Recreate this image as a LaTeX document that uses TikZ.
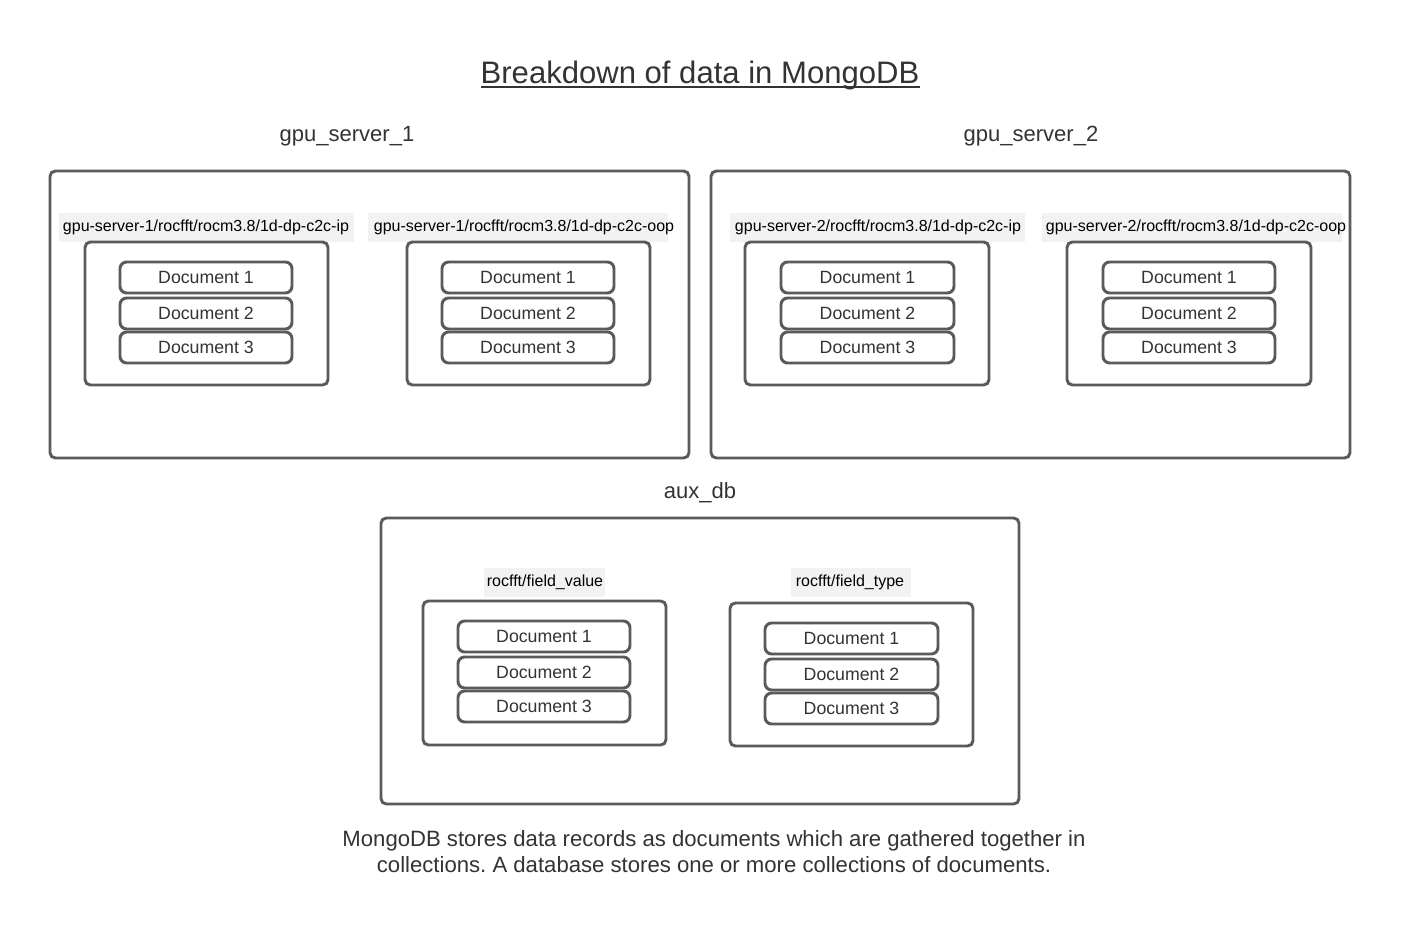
\documentclass[tikz,border=0pt]{standalone}
\usepackage{fontspec}
\setmainfont{Liberation Sans}
\usetikzlibrary{fit}
\frenchspacing
\definecolor{ln}{HTML}{5A5A5A}
\definecolor{tx}{HTML}{333333}
\definecolor{lbg}{HTML}{F2F2F2}
\tikzset{
  box/.style={draw=ln, line width=2.2pt, rounded corners=4pt, inner sep=0pt},
  coll/.style={draw=ln, line width=2.2pt, rounded corners=4pt, inner sep=0pt},
  doc/.style={draw=ln, line width=2.2pt, rounded corners=5pt, inner sep=0pt},
  dtext/.style={text=tx, font=\fontsize{13.3}{15}\selectfont, inner sep=0pt},
  clab/.style={fill=lbg, inner sep=0pt},
  ctext/.style={text=black, font=\fontsize{12}{14}\selectfont, inner sep=0pt},
  slab/.style={text=tx, font=\fontsize{16.5}{20}\selectfont},
  ttl/.style={text=tx, font=\fontsize{23.3}{28}\selectfont},
  note/.style={text=tx, font=\fontsize{16.6}{19.5}\selectfont, align=center}
}
\begin{document}
\begin{tikzpicture}[x=0.75pt,y=-0.75pt]
\useasboundingbox (0,0) rectangle (1402,937);
\fill[white] (0,0) rectangle (1402,937);
% title
\node[ttl] (title) at (700,75) {Breakdown of data in MongoDB};
\draw[tx, line width=1.3pt] (481,87) -- (920,87);
% server labels
\node[slab] (l1) at (347,136) {gpu\_server\_1};
\node[slab] (l2) at (1031,136) {gpu\_server\_2};
\node[slab] (l3) at (700,493) {aux\_db};
% server boxes
\node[box, fit={(50,171) (689,458)}] (s1) {};
\node[box, fit={(711,171) (1350,458)}] (s2) {};
\node[box, fit={(381,518) (1019,804)}] (s3) {};
% collection labels
\node[clab, fit={(59,213) (354,242)}] (c1bg) {};
\node[ctext] (c1t) at (206,227.5) {gpu-server-1/rocfft/rocm3.8/1d-dp-c2c-ip};
\node[clab, fit={(368,213) (668,242)}] (c2bg) {};
\node[ctext] (c2t) at (524,227.5) {gpu-server-1/rocfft/rocm3.8/1d-dp-c2c-oop};
\node[clab, fit={(730,213) (1025,242)}] (c3bg) {};
\node[ctext] (c3t) at (878,227.5) {gpu-server-2/rocfft/rocm3.8/1d-dp-c2c-ip};
\node[clab, fit={(1042,213) (1342,242)}] (c4bg) {};
\node[ctext] (c4t) at (1196,227.5) {gpu-server-2/rocfft/rocm3.8/1d-dp-c2c-oop};
\node[clab, fit={(484,568) (605,597)}] (c5bg) {};
\node[ctext] (c5t) at (545,582.5) {rocfft/field\_value};
\node[clab, fit={(791,568) (911,597)}] (c6bg) {};
\node[ctext] (c6t) at (850,582.5) {rocfft/field\_type};
% collection boxes
\node[coll, fit={(85,242) (328,385)}] (k1) {};
\node[coll, fit={(407,242) (650,385)}] (k2) {};
\node[coll, fit={(745,242) (989,385)}] (k3) {};
\node[coll, fit={(1067,242) (1311,385)}] (k4) {};
\node[coll, fit={(423,601) (666,745)}] (k5) {};
\node[coll, fit={(730,603) (973,746)}] (k6) {};
% documents
\foreach \n/\xa/\xb/\ya in {1/120/292/262, 2/442/614/262, 3/781/954/262, 4/1103/1275/262, 5/458/630/621, 6/765/938/623}{
  \node[doc, fit={(\xa,\ya) (\xb,\ya+31)}] (d\n a) {};
  \node[dtext] (t\n a) at (d\n a.center) {Document 1};
  \node[doc, fit={(\xa,\ya+36) (\xb,\ya+67)}] (d\n b) {};
  \node[dtext] (t\n b) at (d\n b.center) {Document 2};
  \node[doc, fit={(\xa,\ya+70) (\xb,\ya+101)}] (d\n c) {};
  \node[dtext] (t\n c) at (d\n c.center) {Document 3};
}
% note
\node[note] (note) at (714,852) {MongoDB stores data records as documents which are gathered together in\\collections. A database stores one or more collections of documents.};
\end{tikzpicture}
\end{document}
